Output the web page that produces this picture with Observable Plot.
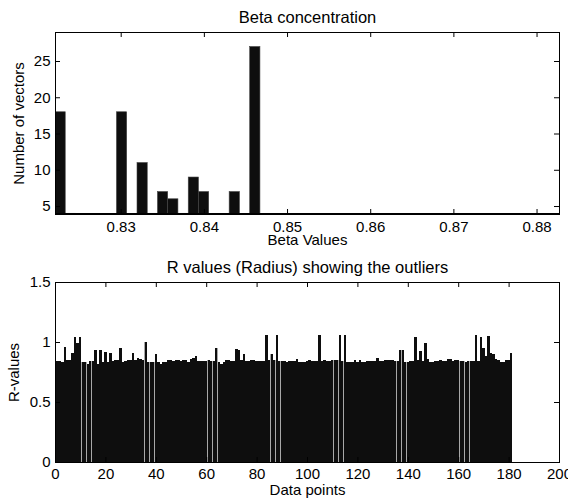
<!DOCTYPE html>
<html><head><meta charset="utf-8">
<script src="https://cdn.jsdelivr.net/npm/d3@7"></script>
<script src="https://cdn.jsdelivr.net/npm/@observablehq/plot@0.6"></script>
<style>
html,body{margin:0;padding:0;background:#fff;}
#chart{width:568px;height:502px;overflow:hidden;}
#chart svg{display:block;}
</style></head><body><div id="chart"></div>
<script>
// ---- Top panel: Beta concentration histogram ----
const betaTitle = "Beta concentration";
const betaXLabel = "Beta Values";
const betaYLabel = "Number of vectors";
const betaBinEdges = [0.82210,0.82333,0.82456,0.82580,0.82703,0.82826,0.82949,0.83072,0.83196,0.83319,0.83442,
  0.83565,0.83688,0.83812,0.83935,0.84058,0.84181,0.84304,0.84428,0.84551,0.84674];
const betaCounts = [18,4,0,0,0,0,18,0,11,4,7,6,4,9,7,0,0,7,0,27];
const betaXTicks = [0.83,0.84,0.85,0.86,0.87,0.88];
const betaYTicks = [5,10,15,20,25];
const betaXDomain = [0.8221,0.8827];
const betaYDomain = [3.9,29];

// ---- Bottom panel: R values ----
const rTitle = "R values (Radius) showing the outliers";
const rXLabel = "Data points";
const rYLabel = "R-values";
const rValues = [
0.84,0.84,0.83,0.96,0.85,0.85,0.91,1.04,0.99,1.04,
0.83,0.83,0.82,0.84,0.84,0.93,0.82,0.93,0.83,0.92,
0.83,0.91,0.84,0.85,0.85,0.95,0.83,0.84,0.85,0.85,
0.91,0.85,0.87,0.86,0.85,1.00,0.83,0.83,0.83,0.90,
0.83,0.82,0.83,0.83,0.85,0.85,0.84,0.85,0.85,0.84,
0.85,0.85,0.83,0.86,0.87,0.88,0.84,0.84,0.84,0.84,
0.85,0.84,0.84,0.95,0.83,0.82,0.83,0.85,0.85,0.84,
0.84,0.94,0.93,0.85,0.90,0.84,0.84,0.85,0.85,0.84,
0.84,0.84,0.84,1.06,0.85,0.90,0.85,1.06,0.84,0.84,
0.84,0.83,0.84,0.84,0.84,0.86,0.83,0.83,0.83,0.84,
0.85,0.84,0.84,0.84,1.06,0.84,0.85,0.84,0.84,0.85,
0.85,0.85,1.06,0.84,1.06,0.83,0.83,0.83,0.85,0.83,
0.85,0.83,0.83,0.84,0.84,0.84,0.84,0.87,0.84,0.84,
0.85,0.85,0.85,0.85,0.84,0.84,0.93,0.93,0.83,0.83,
0.84,0.84,1.04,0.85,0.925,0.84,0.99,0.86,0.83,0.83,
0.84,0.84,0.85,0.84,0.84,0.86,0.86,0.84,0.85,0.85,
0.84,0.84,0.83,0.84,0.84,0.84,1.06,0.84,1.04,0.95,
0.88,1.05,0.91,0.90,0.86,0.85,0.83,0.83,0.85,0.85,
0.91];
const rXTicks = [0,20,40,60,80,100,120,140,160,180,200];
const rYTicks = [0,0.5,1,1.5];
const rXDomain = [0,200];
const rYDomain = [0,1.5];

const FONT = "'Liberation Sans', Arial, Helvetica, sans-serif";
const W = 568;
const barFill = "#0e0e0e";
const fmt = d => String(d);

function panel({height, marginTop, marginBottom, marginLeft, marginRight, xDomain, yDomain, xTicks, yTicks,
                bars, title, titleDy, xLabel, xLabelDy, yLabel, yLabelX, xPad, extra = []}) {
  const innerH = height - marginTop - marginBottom;
  const innerW = W - marginLeft - marginRight;
  const cx = marginLeft + innerW / 2;
  const tick = 5;
  return Plot.plot({
    width: W, height, marginTop, marginBottom, marginLeft, marginRight,
    style: {fontFamily: FONT, fontSize: "15px", background: "#fff", color: "#000", overflow: "visible"},
    x: {domain: xDomain}, y: {domain: yDomain},
    marks: [
      ...bars,
      ...extra,
      Plot.frame({stroke: "#000", strokeWidth: 1}),
      Plot.ruleX(xTicks, {x: d => d, insetTop: innerH - tick, stroke: "#000"}),
      Plot.ruleX(xTicks, {x: d => d, insetBottom: innerH - tick, stroke: "#000"}),
      Plot.ruleY(yTicks, {y: d => d, insetRight: innerW - tick, stroke: "#000"}),
      Plot.ruleY(yTicks, {y: d => d, insetLeft: innerW - tick, stroke: "#000"}),
      Plot.axisX({ticks: xTicks, tickSize: 0, tickPadding: xPad, tickFormat: fmt, label: null, fontSize: 15}),
      Plot.axisY({ticks: yTicks, tickSize: 0, tickPadding: 5, tickFormat: fmt, label: null, fontSize: 15}),
      Plot.text([title], {text: d => d, frameAnchor: "top", dy: titleDy, lineAnchor: "bottom", fontSize: 16.5, fill: "#000"}),
      Plot.text([xLabel], {text: d => d, frameAnchor: "bottom", dy: xLabelDy, lineAnchor: "middle", fontSize: 15, fill: "#000"}),
      Plot.text([yLabel], {text: d => d, frameAnchor: "middle", dx: yLabelX - cx, rotate: -90, lineAnchor: "middle", fontSize: 15, fill: "#000"})
    ]
  });
}

const betaBins = betaCounts.map((c, i) => ({x1: betaBinEdges[i], x2: betaBinEdges[i + 1], c}));
const topPanel = panel({
  height: 251, marginTop: 32, marginBottom: 37, marginLeft: 55, marginRight: 9,
  xDomain: betaXDomain, yDomain: betaYDomain, xTicks: betaXTicks, yTicks: betaYTicks,
  bars: [Plot.rect(betaBins, {x1: "x1", x2: "x2", y1: 0, y2: "c", fill: barFill, stroke: "#444", strokeWidth: 0.6, clip: true})],
  extra: [Plot.ruleY([betaYDomain[0]], {stroke: "#000", strokeWidth: 1, dy: -1})],
  title: betaTitle, titleDy: -10, xLabel: betaXLabel, xLabelDy: 26, yLabel: betaYLabel, yLabelX: 19, xPad: 7
});

const rData = rValues.map((v, i) => ({i: i + 1, v}));
const bottomPanel = panel({
  height: 251, marginTop: 31, marginBottom: 40, marginLeft: 55, marginRight: 9,
  xDomain: rXDomain, yDomain: rYDomain, xTicks: rXTicks, yTicks: rYTicks,
  bars: [
    Plot.rect(rData, {x1: d => d.i - 0.5, x2: d => d.i + 0.5, y1: 0, y2: "v", fill: "#a8a8a8", shapeRendering: "crispEdges"}),
    Plot.rect(rData, {x1: d => d.i - 0.47, x2: d => d.i + 0.47, y1: 0, y2: "v", fill: barFill, shapeRendering: "crispEdges"})
  ],
  title: rTitle, titleDy: -10, xLabel: rXLabel, xLabelDy: 28, yLabel: rYLabel, yLabelX: 14, xPad: 6
});

document.getElementById("chart").append(topPanel, bottomPanel);
</script></body></html>
